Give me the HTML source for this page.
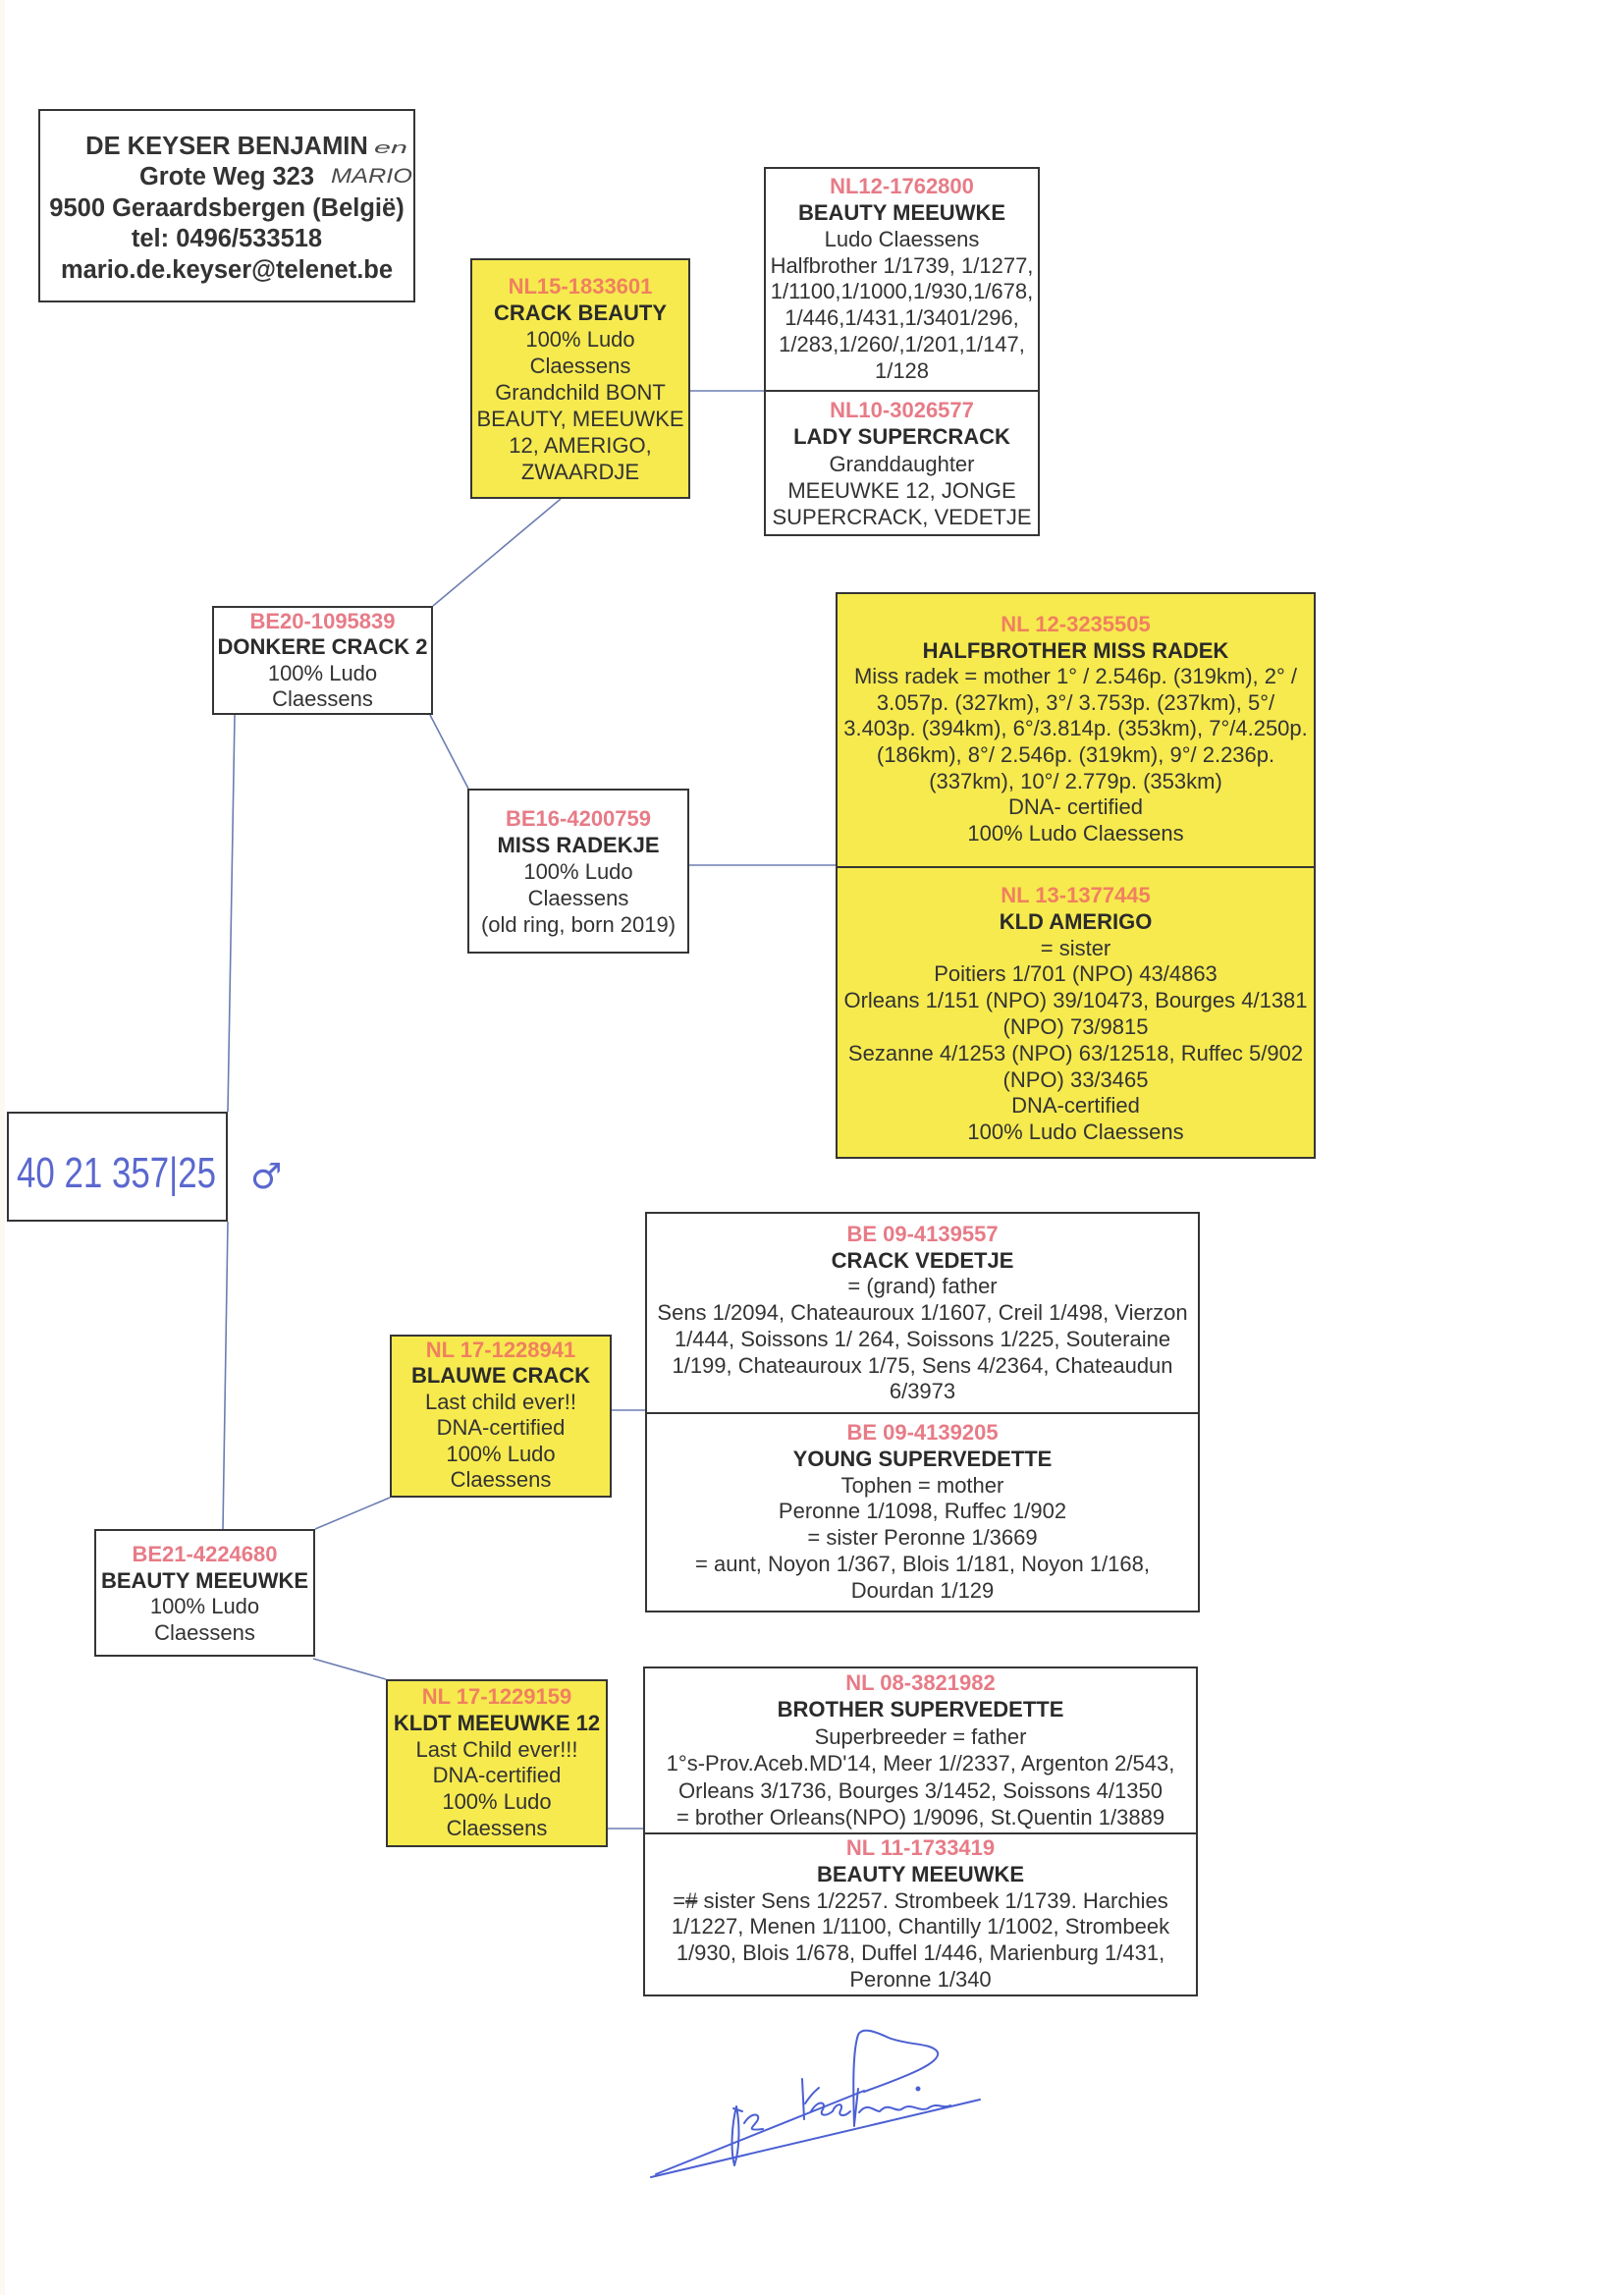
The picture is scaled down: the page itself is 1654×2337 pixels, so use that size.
<!DOCTYPE html>
<html>
<head>
<meta charset="utf-8">
<style>
  html,body{margin:0;padding:0;}
  body{width:1654px;height:2337px;position:relative;background:#ffffff;overflow:hidden;
       font-family:"Liberation Sans",Arial,sans-serif;color:#333333;}
  .edge{position:absolute;left:0;top:0;width:5px;height:2337px;background:#fbf9f2;}
  .b{position:absolute;box-sizing:border-box;border:2px solid #353535;background:#ffffff;}
  .y{background:#f6ea4f;}
  .d{position:absolute;height:2px;background:#353535;}
  .t{position:absolute;text-align:center;white-space:nowrap;font-size:22px;color:#333333;}
  .t b{color:#2b2b2b;}
  .r{color:#e77b87;font-weight:bold;}
  .ty .r{color:#f0805f;}
  .hdr{position:absolute;text-align:center;white-space:nowrap;font-size:25.5px;font-weight:bold;color:#333333;line-height:31.5px;}
  svg{position:absolute;left:0;top:0;}
</style>
</head>
<body>
<div class="edge"></div>

<!-- connector lines (under boxes) -->
<svg width="1654" height="2337" viewBox="0 0 1654 2337">
  <g stroke="#6b7db2" stroke-width="1.6" fill="none">
    <line x1="571" y1="508" x2="441" y2="617"/>
    <line x1="438" y1="728" x2="477" y2="803"/>
    <line x1="703" y1="398" x2="778" y2="398"/>
    <line x1="702" y1="881" x2="851" y2="881"/>
    <line x1="239" y1="728" x2="232" y2="1132"/>
    <line x1="232" y1="1244" x2="227" y2="1557"/>
    <line x1="321" y1="1557" x2="397" y2="1525"/>
    <line x1="319" y1="1689" x2="393" y2="1710"/>
    <line x1="623" y1="1436" x2="657" y2="1436"/>
    <line x1="619" y1="1862" x2="655" y2="1862"/>
  </g>
</svg>

<!-- Header box -->
<div class="b" style="left:39px;top:111px;width:384px;height:197px;"></div>
<div class="hdr" style="left:39px;top:133.5px;width:384px;">
DE KEYSER BENJAMIN<br>
Grote Weg 323<br>
9500 Geraardsbergen (België)<br>
tel: 0496/533518<br>
mario.de.keyser@telenet.be
</div>

<!-- CRACK BEAUTY -->
<div class="b y" style="left:479px;top:263px;width:224px;height:245px;"></div>
<div class="t ty" style="left:479px;top:278px;width:224px;line-height:27px;">
<span class="r">NL15-1833601</span><br><b>CRACK BEAUTY</b><br>100% Ludo<br>Claessens<br>Grandchild BONT<br>BEAUTY, MEEUWKE<br>12, AMERIGO,<br>ZWAARDJE
</div>

<!-- NL12 / NL10 -->
<div class="b" style="left:778px;top:170px;width:281px;height:376px;"></div>
<div class="d" style="left:778px;top:397px;width:281px;"></div>
<div class="t" style="left:778px;top:177px;width:281px;line-height:26.86px;">
<span class="r">NL12-1762800</span><br><b>BEAUTY MEEUWKE</b><br>Ludo Claessens<br>Halfbrother 1/1739, 1/1277,<br>1/1100,1/1000,1/930,1/678,<br>1/446,1/431,1/3401/296,<br>1/283,1/260/,1/201,1/147,<br>1/128
</div>
<div class="t" style="left:778px;top:404px;width:281px;line-height:27.25px;">
<span class="r">NL10-3026577</span><br><b>LADY SUPERCRACK</b><br>Granddaughter<br>MEEUWKE 12, JONGE<br>SUPERCRACK, VEDETJE
</div>

<!-- DONKERE CRACK 2 -->
<div class="b" style="left:216px;top:617px;width:225px;height:111px;"></div>
<div class="t" style="left:216px;top:620px;width:225px;line-height:26.3px;">
<span class="r">BE20-1095839</span><br><b>DONKERE CRACK 2</b><br>100% Ludo<br>Claessens
</div>

<!-- MISS RADEKJE -->
<div class="b" style="left:476px;top:803px;width:226px;height:168px;"></div>
<div class="t" style="left:476px;top:820px;width:226px;line-height:27px;">
<span class="r">BE16-4200759</span><br><b>MISS RADEKJE</b><br>100% Ludo<br>Claessens<br>(old ring, born 2019)
</div>

<!-- Big yellow box -->
<div class="b y" style="left:851px;top:603px;width:489px;height:577px;"></div>
<div class="d" style="left:851px;top:882px;width:489px;"></div>
<div class="t ty" style="left:851px;top:623px;width:489px;line-height:26.6px;">
<span class="r">NL 12-3235505</span><br><b>HALFBROTHER MISS RADEK</b><br>Miss radek = mother 1° / 2.546p. (319km), 2° /<br>3.057p. (327km), 3°/ 3.753p. (237km), 5°/<br>3.403p. (394km), 6°/3.814p. (353km), 7°/4.250p.<br>(186km), 8°/ 2.546p. (319km), 9°/ 2.236p.<br>(337km), 10°/ 2.779p. (353km)<br>DNA- certified<br>100% Ludo Claessens
</div>
<div class="t ty" style="left:851px;top:899px;width:489px;line-height:26.8px;">
<span class="r">NL 13-1377445</span><br><b>KLD AMERIGO</b><br>= sister<br>Poitiers 1/701 (NPO) 43/4863<br>Orleans 1/151 (NPO) 39/10473, Bourges 4/1381<br>(NPO) 73/9815<br>Sezanne 4/1253 (NPO) 63/12518, Ruffec 5/902<br>(NPO) 33/3465<br>DNA-certified<br>100% Ludo Claessens
</div>

<!-- Ring box -->
<div class="b" style="left:7px;top:1132px;width:225px;height:112px;"></div>

<!-- CRACK VEDETJE / YOUNG SUPERVEDETTE -->
<div class="b" style="left:657px;top:1234px;width:565px;height:408px;"></div>
<div class="d" style="left:657px;top:1438px;width:565px;"></div>
<div class="t" style="left:657px;top:1244px;width:565px;line-height:26.7px;">
<span class="r">BE 09-4139557</span><br><b>CRACK VEDETJE</b><br>= (grand) father<br>Sens 1/2094, Chateauroux 1/1607, Creil 1/498, Vierzon<br>1/444, Soissons 1/ 264, Soissons 1/225, Souteraine<br>1/199, Chateauroux 1/75, Sens 4/2364, Chateaudun<br>6/3973
</div>
<div class="t" style="left:657px;top:1446px;width:565px;line-height:26.8px;">
<span class="r">BE 09-4139205</span><br><b>YOUNG SUPERVEDETTE</b><br>Tophen = mother<br>Peronne 1/1098, Ruffec 1/902<br>= sister Peronne 1/3669<br>= aunt, Noyon 1/367, Blois 1/181, Noyon 1/168,<br>Dourdan 1/129
</div>

<!-- BLAUWE CRACK -->
<div class="b y" style="left:397px;top:1359px;width:226px;height:166px;"></div>
<div class="t ty" style="left:397px;top:1362px;width:226px;line-height:26.4px;">
<span class="r">NL 17-1228941</span><br><b>BLAUWE CRACK</b><br>Last child ever!!<br>DNA-certified<br>100% Ludo<br>Claessens
</div>

<!-- BE21 BEAUTY MEEUWKE -->
<div class="b" style="left:96px;top:1557px;width:225px;height:130px;"></div>
<div class="t" style="left:96px;top:1570px;width:225px;line-height:26.7px;">
<span class="r">BE21-4224680</span><br><b>BEAUTY MEEUWKE</b><br>100% Ludo<br>Claessens
</div>

<!-- KLDT MEEUWKE 12 -->
<div class="b y" style="left:393px;top:1710px;width:226px;height:171px;"></div>
<div class="t ty" style="left:393px;top:1715px;width:226px;line-height:26.8px;">
<span class="r">NL 17-1229159</span><br><b>KLDT MEEUWKE 12</b><br>Last Child ever!!!<br>DNA-certified<br>100% Ludo<br>Claessens
</div>

<!-- BROTHER SUPERVEDETTE / BEAUTY MEEUWKE -->
<div class="b" style="left:655px;top:1697px;width:565px;height:336px;"></div>
<div class="d" style="left:655px;top:1866px;width:565px;"></div>
<div class="t" style="left:655px;top:1700px;width:565px;line-height:27.4px;">
<span class="r">NL 08-3821982</span><br><b>BROTHER SUPERVEDETTE</b><br>Superbreeder = father<br>1°s-Prov.Aceb.MD'14, Meer 1//2337, Argenton 2/543,<br>Orleans 3/1736, Bourges 3/1452, Soissons 4/1350<br>= brother Orleans(NPO) 1/9096, St.Quentin 1/3889
</div>
<div class="t" style="left:655px;top:1869px;width:565px;line-height:26.8px;">
<span class="r">NL 11-1733419</span><br><b>BEAUTY MEEUWKE</b><br>=<s>#</s> sister Sens 1/2257. Strombeek 1/1739. Harchies<br>1/1227, Menen 1/1100, Chantilly 1/1002, Strombeek<br>1/930, Blois 1/678, Duffel 1/446, Marienburg 1/431,<br>Peronne 1/340
</div>

<!-- Handwriting & signature overlay -->
<svg width="1654" height="2337" viewBox="0 0 1654 2337">
  <!-- header handwriting -->
  <text x="381" y="156" font-family="Liberation Sans, sans-serif" font-size="17" fill="#4a4a4a" font-style="italic" textLength="34" lengthAdjust="spacingAndGlyphs">en</text>
  <text x="337" y="186" font-family="Liberation Sans, sans-serif" font-size="21" fill="#4a4a4a" font-style="italic" textLength="83" lengthAdjust="spacingAndGlyphs">MARIO</text>
  <!-- ring number handwriting -->
  <text x="17" y="1209" font-family="Liberation Sans, sans-serif" font-size="44" fill="#5a68cf" textLength="203" lengthAdjust="spacingAndGlyphs">40 21 357|25</text>
  <text x="255" y="1210" font-family="DejaVu Sans, sans-serif" font-size="36" fill="#5a68cf">♂</text>
  <!-- signature -->
  <g stroke="#4b5fd3" stroke-width="2" fill="none" stroke-linecap="round" stroke-linejoin="round">
    <path d="M663 2217 L998 2138"/>
    <path d="M668 2214 L880 2129"/>
    <path d="M870 2165 C869 2130 868 2090 874 2072 C878 2064 890 2068 905 2075 C925 2083 950 2080 955 2090 C958 2100 930 2112 880 2130"/>
    <path d="M750 2145 C745 2165 744 2190 748 2205 C753 2190 754 2165 750 2145"/>
    <path d="M747 2147 L756 2150"/>
    <path d="M758 2162 C765 2150 776 2152 771 2160 C766 2167 760 2170 777 2168"/>
    <path d="M817 2117 L819 2158"/>
    <path d="M820 2142 C828 2130 832 2128 834 2126"/>
    <path d="M826 2150 C833 2138 842 2140 838 2148 C834 2154 840 2156 848 2150 C852 2140 860 2142 856 2149 C853 2155 860 2156 866 2150"/>
    <path d="M874 2127 L870 2164"/>
    <path d="M875 2151 C884 2140 890 2150 896 2150 C905 2140 911 2151 918 2148 C928 2140 935 2151 945 2147 C955 2140 960 2148 968 2144"/>
    <circle cx="935" cy="2127" r="1.5" fill="#4b5fd3"/>
  </g>
</svg>
</body>
</html>
